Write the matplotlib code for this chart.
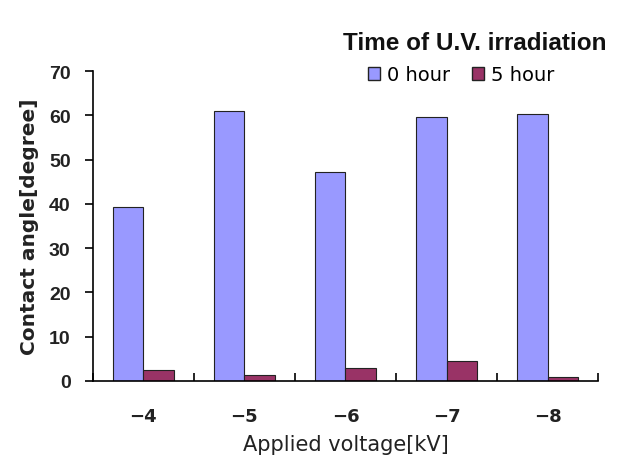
import matplotlib
matplotlib.use("Agg")
import matplotlib.pyplot as plt
import numpy as np
from matplotlib.patches import Patch

categories = ["\u22124", "\u22125", "\u22126", "\u22127", "\u22128"]
hour0 = [39.3, 61.1, 47.2, 59.6, 60.4]
hour5 = [2.5, 1.3, 2.9, 4.5, 0.9]
series_labels = ["0 hour", "5 hour"]
yticks = [0, 10, 20, 30, 40, 50, 60, 70]

plt.rcParams['font.family'] = ['DejaVu Sans']

fig = plt.figure(figsize=(6.23, 4.6), dpi=100)
ax = fig.add_axes([0.149, 0.1696, 0.811, 0.6734])

x = np.arange(len(categories))
w = 0.3
ax.bar(x - w/2, hour0, w, color='#9999FF', edgecolor='#222222', linewidth=0.8)
ax.bar(x + w/2, hour5, w, color='#993366', edgecolor='#222222', linewidth=0.8)

ax.set_xlim(-0.5, len(categories) - 0.5)
ax.set_ylim(0, 70)
ax.set_yticks(yticks)
ax.set_yticklabels([str(t) for t in yticks], fontsize=14, fontweight='bold',
                   color='#222222', family='Liberation Sans')
ax.set_xticks(x)
ax.set_xticklabels(categories, fontsize=13, fontweight='bold', color='#222222')
ax.tick_params(axis='x', which='major', length=0, pad=19)
ax.set_xticks(np.arange(-0.5, len(categories)), minor=True)
ax.tick_params(axis='x', which='minor', direction='in', length=6, width=1.2)
ax.tick_params(axis='y', direction='out', length=6, width=1.2, pad=10)

for s in ['top', 'right']:
    ax.spines[s].set_visible(False)
for s in ['left', 'bottom']:
    ax.spines[s].set_linewidth(1.2)

ax.set_xlabel("Applied voltage[kV]", fontsize=15, color='#222222', labelpad=6)
ax.set_ylabel("Contact angle[degree]", fontsize=14.5, fontweight='bold',
              color='#222222', labelpad=7)

fig.text(0.762, 0.906, "Time of U.V. irradiation", fontsize=17.5, fontweight='bold',
         ha='center', va='center', color='#111111', family='Liberation Sans')
handles = [Patch(facecolor='#9999FF', edgecolor='#222222'),
           Patch(facecolor='#993366', edgecolor='#222222')]
fig.legend(handles, series_labels, loc='center', bbox_to_anchor=(0.74, 0.835),
           ncol=2, frameon=False, fontsize=14, handlelength=0.65, handleheight=0.65,
           handletextpad=0.35, columnspacing=1.1)

fig.savefig("out.png", dpi=100)
